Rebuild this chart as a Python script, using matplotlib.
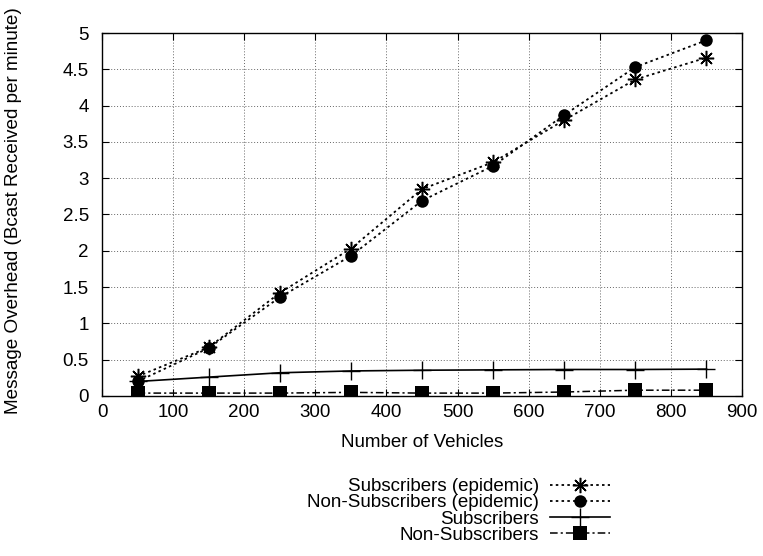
import matplotlib
matplotlib.use("Agg")
import matplotlib.pyplot as plt

plt.rcParams['font.family'] = ['Liberation Sans', 'DejaVu Sans']
FS = 13.5

vehicles = [50, 150, 250, 350, 450, 550, 650, 750, 850]
subs_epidemic = [0.27, 0.67, 1.42, 2.03, 2.85, 3.22, 3.80, 4.36, 4.66]
nonsubs_epidemic = [0.20, 0.66, 1.36, 1.93, 2.69, 3.17, 3.87, 4.53, 4.90]
subs = [0.20, 0.26, 0.32, 0.345, 0.355, 0.36, 0.365, 0.365, 0.37]
nonsubs = [0.04, 0.04, 0.04, 0.05, 0.04, 0.04, 0.055, 0.08, 0.08]

labels = ["Subscribers (epidemic)", "Non-Subscribers (epidemic)",
          "Subscribers", "Non-Subscribers"]
xticks = [0, 100, 200, 300, 400, 500, 600, 700, 800, 900]
yticks = [0, 0.5, 1, 1.5, 2, 2.5, 3, 3.5, 4, 4.5, 5]
ytick_labels = ["0", "0.5", "1", "1.5", "2", "2.5", "3", "3.5", "4", "4.5", "5"]

W, H = 763, 556
fig = plt.figure(figsize=(W / 100, H / 100), dpi=100)
left, right, top, bottom = 102, 742, 33, 396
ax = fig.add_axes([left / W, 1 - bottom / H, (right - left) / W, (bottom - top) / H])

dotted = (0, (1.4, 1.8))
h1, = ax.plot(vehicles, subs_epidemic, color='black', lw=1.3, linestyle=dotted,
              marker=(8, 2, 0), markersize=11, markeredgewidth=1.1)
h2, = ax.plot(vehicles, nonsubs_epidemic, color='black', lw=1.3, linestyle=dotted,
              marker='o', markersize=9, markeredgewidth=0)
h3, = ax.plot(vehicles, subs, color='black', lw=1.2, linestyle='-',
              marker='+', markersize=13, markeredgewidth=1.0)
h4, = ax.plot(vehicles, nonsubs, color='black', lw=1.1, linestyle=(0, (5, 2, 1.4, 2)),
              marker='s', markersize=9.5, markeredgewidth=0)

ax.set_xlim(0, 900)
ax.set_ylim(0, 5)
ax.set_xticks(xticks)
ax.set_xticklabels([str(v) for v in xticks])
ax.set_yticks(yticks)
ax.set_yticklabels(ytick_labels)
ax.tick_params(axis='both', which='both', direction='in', length=5, width=0.8,
               top=True, right=True, labelsize=FS, colors='black')
ax.tick_params(axis='x', pad=6)
ax.tick_params(axis='y', pad=9.4)

ax.grid(True, color='#666666', linestyle=(0, (1, 2)), linewidth=0.7)
ax.set_axisbelow(True)
for s in ax.spines.values():
    s.set_linewidth(1.0)
    s.set_color('black')

ax.set_xlabel("Number of Vehicles", fontsize=FS)
ax.xaxis.set_label_coords(0.5, -0.106)
ax.set_ylabel("Message Overhead (Bcast Received per minute)", fontsize=13.6)
ax.yaxis.set_label_coords(-0.125, 0.51)

leg = ax.legend([h1, h2, h3, h4], labels, loc='upper right',
                bbox_to_anchor=(610 / W, 1 - 478 / H), bbox_transform=fig.transFigure,
                markerfirst=False, frameon=False, fontsize=FS, numpoints=1,
                handlelength=3.2, handletextpad=0.6, labelspacing=-0.05,
                borderpad=0, borderaxespad=0)

fig.savefig("out.png", dpi=100)
